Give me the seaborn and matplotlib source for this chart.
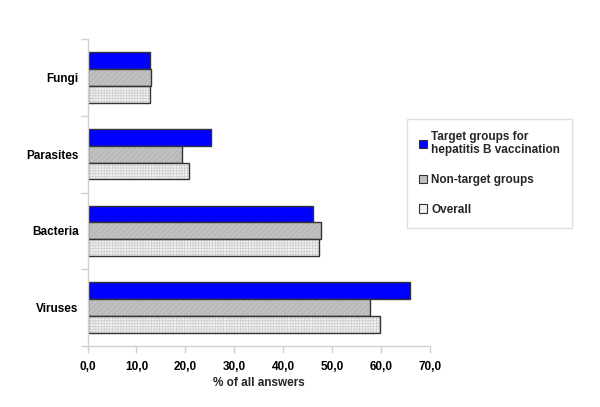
import pandas as pd
import matplotlib.pyplot as plt
import seaborn as sns
from matplotlib.colors import to_rgba
from matplotlib.ticker import FuncFormatter, FixedLocator

sns.set_theme(style='white')
plt.rcParams['font.family'] = ['Liberation Sans', 'DejaVu Sans']
plt.rcParams['hatch.linewidth'] = 0.5

# Data
categories = ['Fungi', 'Parasites', 'Bacteria', 'Viruses']
groups = ['Target groups for\nhepatitis B vaccination', 'Non-target groups', 'Overall']
target = [12.7, 25.3, 46.2, 66.0]
non_target = [12.9, 19.3, 47.7, 57.9]
overall = [12.8, 20.8, 47.4, 59.9]

df = pd.DataFrame({
    'category': categories * 3,
    'group': [groups[0]] * 4 + [groups[1]] * 4 + [groups[2]] * 4,
    'value': target + non_target + overall,
})

colors = ['#0000ff', '#c0c0c0', '#f2f2f2']
hatches = [None, '//////', '++++++']
hatch_colors = ['#0000ff', '#b0b0b0', '#cccccc']

fig = plt.figure(figsize=(6, 4.07), dpi=100)
ax = fig.add_axes([0.146, 0.150, 0.570, 0.754])

sns.barplot(
    data=df, x='value', y='category', hue='group',
    order=categories, hue_order=groups,
    palette=colors, saturation=1, width=0.66, orient='h',
    edgecolor='#333333', linewidth=1.0, ax=ax
)

# fine fill patterns like the original
for cont, h, hc in zip(ax.containers, hatches, hatch_colors):
    for bar in cont:
        if h:
            bar.set_hatch(h)
            bar._hatch_color = to_rgba(hc)

ax.set_xlim(0, 70)
ax.set_ylim(3.5, -0.5)
ax.set_xticks(range(0, 71, 10))
ax.xaxis.set_major_formatter(FuncFormatter(lambda v, p: f'{v:.1f}'.replace('.', ',')))
ax.yaxis.set_minor_locator(FixedLocator([-0.5, 0.5, 1.5, 2.5, 3.5]))

ax.tick_params(axis='y', which='major', length=0, pad=6.5)
ax.tick_params(axis='y', which='minor', length=5, color='#d0d0d0', width=1, left=True)
ax.tick_params(axis='x', length=5, color='#d0d0d0', width=1, bottom=True, pad=6)

for lab in ax.get_xticklabels() + ax.get_yticklabels():
    lab.set_fontweight('bold')
    lab.set_fontsize(8.5)
    lab.set_color('black')

ax.set_xlabel('% of all answers', fontsize=8.5, fontweight='bold', labelpad=3)
ax.set_ylabel('')

for side in ['top', 'right']:
    ax.spines[side].set_visible(False)
for side in ['left', 'bottom']:
    ax.spines[side].set_color('#d0d0d0')
    ax.spines[side].set_linewidth(1)

handles, labels = ax.get_legend_handles_labels()
ax.get_legend().remove()
leg = fig.legend(
    handles, labels, loc='upper left', bbox_to_anchor=(0.678, 0.708),
    frameon=True, fancybox=False, edgecolor='#d8d8d8',
    prop={'weight': 'bold', 'size': 8.5},
    handlelength=0.75, handleheight=0.75, handletextpad=0.3,
    labelspacing=1.5, borderpad=1.0, borderaxespad=0
)
for hnd in leg.legend_handles:
    hnd.set_hatch(None)
    hnd.set_linewidth(0.8)

fig.savefig('out.png', dpi=100)
